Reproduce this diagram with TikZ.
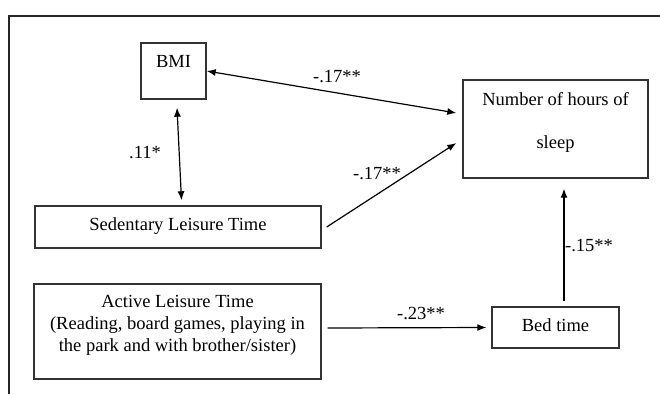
\documentclass[tikz,border=0pt]{standalone}
\usepackage{fontspec}
\setmainfont{Liberation Serif}
\usetikzlibrary{arrows.meta}
\begin{document}
\begin{tikzpicture}[x=1pt,y=-1pt]
\tikzstyle{box}=[draw=black!80,line width=1.4pt,inner sep=0pt,align=center,font=\fontsize{18.5}{22}\selectfont]
\tikzstyle{link}=[line width=1.2pt,-{Latex[length=9pt,width=7pt]}]
\tikzstyle{both}=[line width=1.2pt,{Latex[length=9pt,width=7pt]}-{Latex[length=9pt,width=7pt]}]
\tikzstyle{coef}=[inner sep=0pt,font=\fontsize{18.5}{22}\selectfont]
\useasboundingbox (0,0) rectangle (660,394);
\draw[line width=1.5pt,black!85] (9,394) -- (9,16) -- (660,16);
\node[box,minimum width=65pt,minimum height=56pt,text height=24pt,text depth=32pt] (bmi) at (173.5,71) {BMI};
\node[box,minimum width=185pt,minimum height=98pt,text height=68pt,text depth=30pt] (sleep) at (555.5,129) {Number of hours of\\[21pt]sleep};
\node[box,minimum width=286pt,minimum height=42pt,text height=24pt,text depth=18pt] (sed) at (178,227) {Sedentary Leisure Time};
\node[box,minimum width=287pt,minimum height=95pt,text height=67pt,text depth=28pt] (act) at (177.5,331.5) {Active Leisure Time\\(Reading, board games, playing in\\the park and with brother/sister)};
\node[box,minimum width=127pt,minimum height=41pt,text height=24pt,text depth=17pt] (bed) at (555.5,327.5) {Bed time};
\draw[both] (bmi.east) -- ([shift={(-6pt,16pt)}]sleep.west);
\draw[both] ([shift={(3.5pt,-8pt)}]bmi.south) -- ([shift={(3.5pt,5pt)}]sed.north);
\draw[link] ([xshift=5pt]sed.east) -- ([shift={(-6pt,-14pt)}]sleep.west);
\draw[link] ([shift={(6pt,3.5pt)}]act.east) -- ([xshift=-5pt]bed.west);
\draw[link] ([shift={(8.5pt,5pt)}]bed.north) -- ([shift={(8.5pt,-10pt)}]sleep.south);
\node[coef] (c1) at (337,77) {-.17**};
\node[coef] (c2) at (145,153) {.11*};
\node[coef] (c3) at (377,174) {-.17**};
\node[coef] (c4) at (421,313) {-.23**};
\node[coef] (c5) at (589,246) {-.15**};
\end{tikzpicture}
\end{document}
